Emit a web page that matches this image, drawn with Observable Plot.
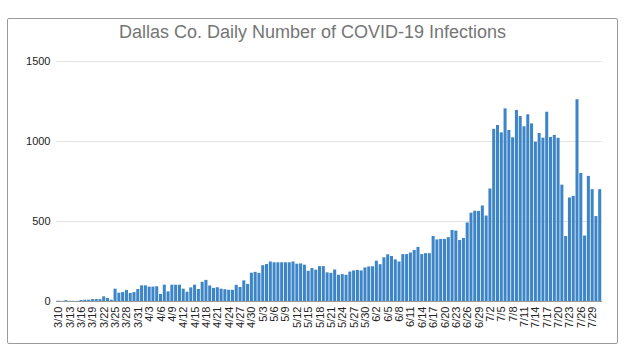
<!DOCTYPE html>
<html><head><meta charset="utf-8">
<script src="https://cdn.jsdelivr.net/npm/d3@7"></script>
<script src="https://cdn.jsdelivr.net/npm/@observablehq/plot@0.6"></script>
<style>
body{margin:0;background:#fff;}
#wrap{position:relative;width:629px;height:354px;overflow:hidden;font-family:"Liberation Sans",Arial,sans-serif;}
#frame{position:absolute;left:7px;top:18px;width:611px;height:326px;border:1px solid #9a9a9a;border-radius:2px;box-sizing:border-box;}
#title{position:absolute;left:7px;width:611px;top:22px;text-align:center;font-size:18px;color:#757575;}
#chart{position:absolute;left:0;top:0;}
</style></head>
<body><div id="wrap"><div id="frame"></div><div id="chart"></div><div id="title">Dallas Co. Daily Number of COVID-19 Infections</div></div>
<script>
// Daily new infections, 3/10 – 7/31
const marchStartDay = 10;
const march = [2,1,5,1,1,1,6,8,8,12,12,12,29,19,8,77,52,56,69,50,56,75];
const april = [98,98,90,90,92,44,102,60,102,102,102,77,58,85,102,75,120,132,97,82,86,77,74,70,70,101,88,129,107,177];
const may = [182,176,224,231,247,242,242,242,242,242,247,233,235,227,189,206,196,218,218,179,176,197,164,168,164,184,191,194,191,210,216];
const june = [217,252,230,273,292,281,260,247,293,293,303,319,338,293,299,299,406,385,388,388,399,444,440,381,394,491,552,564,563,597];
const july = [534,703,1076,1100,1054,1204,1069,1023,1194,1156,1092,1167,1110,996,1050,1021,1183,1025,1038,1020,727,406,647,657,1261,800,409,782,699,531,699];
const yTicks = [0, 500, 1000, 1500];

const months = [[3, march, marchStartDay], [4, april, 1], [5, may, 1], [6, june, 1], [7, july, 1]];
const data = [];
for (const [m, arr, start] of months) arr.forEach((v, i) => data.push({date: `${m}/${start + i}`, cases: v}));
const dates = data.map(d => d.date);
const xTicks = dates.filter((d, i) => i % 3 === 0);

const chart = Plot.plot({
  width: 629, height: 354,
  marginTop: 61, marginBottom: 53, marginLeft: 56, marginRight: 27,
  style: {fontFamily: '"Liberation Sans", Arial, sans-serif', fontSize: "11px", color: "#222", background: "transparent"},
  x: {type: "band", domain: dates, padding: 0.2},
  y: {domain: [0, 1500]},
  marks: [
    Plot.ruleY(yTicks.slice(1), {stroke: "#e3e3e3", strokeWidth: 1}),
    Plot.barY(data, {x: "date", y: "cases", fill: "#3d85c6"}),
    Plot.ruleY([0], {stroke: "#9a9a9a", strokeWidth: 1}),
    Plot.axisY({ticks: yTicks, tickFormat: d => String(d), tickSize: 0, tickPadding: 6, label: null, fill: "#222"}),
    Plot.axisX({ticks: xTicks, tickRotate: -90, tickSize: 0, tickPadding: 5, label: null, fill: "#222"})
  ]
});
document.getElementById("chart").appendChild(chart);
</script>
</body></html>
